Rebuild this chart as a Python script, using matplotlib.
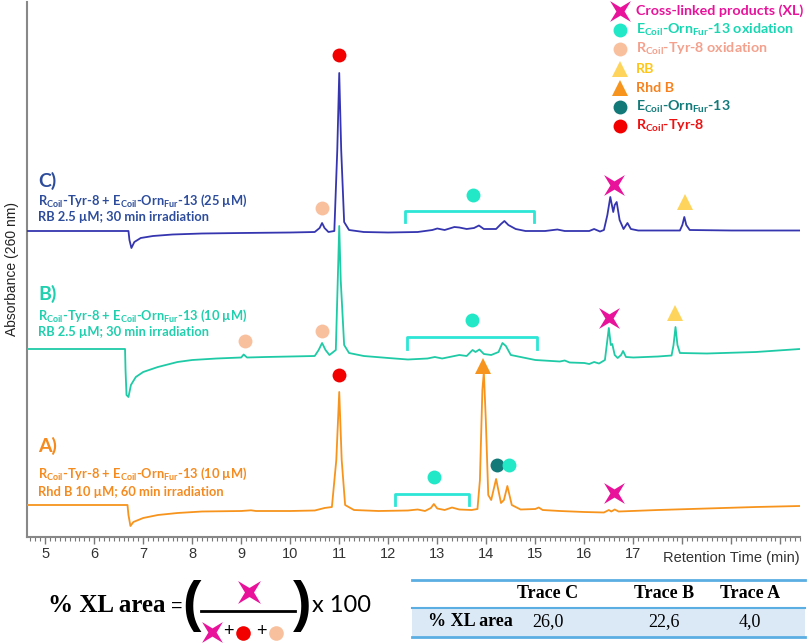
import numpy as np
import matplotlib
matplotlib.use("Agg")
import matplotlib.pyplot as plt
from matplotlib.path import Path
from matplotlib.ticker import MultipleLocator, FixedLocator, FixedFormatter

plt.rcParams["font.family"] = ["Liberation Sans", "DejaVu Sans"]
plt.rcParams["mathtext.fontset"] = "custom"
plt.rcParams["mathtext.rm"] = "Lato:bold"
plt.rcParams["mathtext.it"] = "Lato:bold"
plt.rcParams["mathtext.bf"] = "Lato:bold"

# ---- chromatogram data (signal relative to each trace's own baseline) ----
time_c = [4.63, 6.70, 6.72, 6.76, 6.82, 6.95, 7.2, 7.6, 8.2, 9.0, 10.0, 10.5, 10.6, 10.65, 10.7,
          10.78, 10.9, 10.96, 11.0, 11.04, 11.1, 11.2, 11.5, 12.0, 12.6, 12.9, 13.0, 13.15, 13.35,
          13.45, 13.6, 13.75, 13.85, 13.95, 14.2, 14.3, 14.37, 14.45, 14.6, 14.8, 15.2, 15.45, 15.6,
          16.1, 16.2, 16.32, 16.4, 16.47, 16.53, 16.59, 16.62, 16.66, 16.72, 16.8, 16.88, 16.95,
          17.1, 17.95, 18.0, 18.04, 18.08, 18.15, 19.0, 20.4]
signal_c = [0, 0, -9, -17, -11, -7, -5, -3.5, -2.5, -2, -1.5, -1, 3, 8, 3,
            -1, 0, 81, 158, 81, 9, 1, -1, -1.5, -1, 1, 2.5, 1, 4,
            3.5, 2, 3, 5.5, 2, 2, 7, 10, 6, 2, 0, 0, 1.5, 0,
            0, 2, -0.5, 1, 16, 34, 19, 26, 29, 11, 2, 8, 2,
            0.5, 0.5, 6, 14, 6, 1, 0.5, 0.5]

time_b = [4.63, 6.63, 6.64, 6.66, 6.7, 6.75, 6.85, 7.0, 7.3, 7.7, 8.0, 8.5, 9.0, 9.05, 9.12, 9.5,
          10.0, 10.5, 10.58, 10.65, 10.72, 10.8, 10.93, 10.97, 11.0, 11.03, 11.1, 11.2, 11.5, 12.0,
          12.4, 12.8, 12.95, 13.1, 13.35, 13.45, 13.6, 13.72, 13.78, 13.86, 13.95, 14.1, 14.25,
          14.33, 14.4, 14.5, 14.7, 15.0, 15.5, 15.6, 15.7, 16.0, 16.1, 16.2, 16.3, 16.42, 16.47,
          16.5, 16.54, 16.57, 16.62, 16.68, 16.75, 16.79, 16.85, 17.0, 17.5, 17.78, 17.82, 17.86,
          17.9, 17.95, 18.5, 19.5, 20.4]
signal_b = [0, 0, -21, -46, -48, -36, -28, -23, -18, -13, -11, -9.5, -8.5, -5.5, -8.5, -8,
            -7.5, -7, -1, 6, -1, -6, -1, 69, 123, 69, 4, -4, -7, -9,
            -10.5, -9.5, -8, -9.5, -7, -6, -7, -1, -3, -0.5, -5, -6, -3,
            6, 3, -6, -8, -11, -12.5, -11.5, -13.5, -14, -15, -13, -14.5, -11, 9,
            21, 4, 5, -6, -9, -6, -2, -8, -8.5, -7.5, -6.5, 4, 22,
            4, -4, -4.5, -3, 0]

time_a = [4.63, 6.68, 6.7, 6.74, 6.8, 6.9, 7.0, 7.3, 7.7, 8.2, 9.0, 9.2, 9.3, 10.0, 10.5, 10.7,
          10.85, 10.94, 11.0, 11.05, 11.12, 11.3, 11.8, 12.4, 12.6, 12.75, 12.87, 12.93, 13.0,
          13.15, 13.3, 13.45, 13.7, 13.82, 13.87, 13.92, 13.95, 13.99, 14.04, 14.1, 14.2, 14.3,
          14.36, 14.43, 14.52, 14.7, 15.0, 15.07, 15.15, 15.5, 16.0, 16.4, 16.5, 16.55, 16.62,
          16.7, 17.5, 18.5, 19.5, 20.4]
signal_a = [0, 0, -10, -21, -17, -15, -13, -10, -8, -6.5, -6, -5.3, -6, -6, -5.5, -3,
            -2, 45, 113, 45, 0, -5, -6, -5.5, -4.5, -6, -3, 1, -3.5,
            -5, -2.5, -4.5, -5, -4, 25, 115, 133, 85, 10, 5, 26, 2,
            5, 19, 0, -4.5, -4, -2.5, -5, -6, -7, -7.5, -5, -6.5, -4.5,
            -6.5, -5, -3.5, -2, -1]

trace_offsets = {"C": 306, "B": 188, "A": 32}
trace_colors = {"C": "#3535b0", "B": "#1fcaa6", "A": "#f7941d"}
text_colors = {"C": "#2d4d9c", "B": "#1fcfae", "A": "#f58a1f"}

# peak annotation symbols: (symbol, time, height)
peak_marks = [
    ("red", 11.0, 482), ("peach", 10.65, 329), ("cyan", 13.73, 342), ("xl", 16.6, 352), ("rb", 18.06, 335),
    ("peach", 9.08, 196), ("peach", 10.65, 206), ("cyan", 13.71, 217), ("xl", 16.51, 219), ("rb", 17.86, 224),
    ("red", 11.0, 162), ("rhd", 13.94, 171), ("cyan", 12.94, 60), ("teal", 14.22, 72), ("cyan", 14.47, 72),
    ("xl", 16.6, 44),
]
brackets = [(12.35, 14.98, 326, 315), (12.39, 15.04, 200, 188), (12.14, 13.65, 43, 32)]

legend_keys = ["xl", "cyan", "peach", "rb", "rhd", "teal", "red"]
legend_labels = ["Cross-linked products (XL)", "E$_{Coil}$-Orn$_{Fur}$-13 oxidation",
                 "R$_{Coil}$-Tyr-8 oxidation", "RB", "Rhd B", "E$_{Coil}$-Orn$_{Fur}$-13",
                 "R$_{Coil}$-Tyr-8"]
legend_text_colors = ["#e8139a", "#19d6b2", "#f4a08c", "#ffc61a", "#f7821d", "#137a7a", "#ee1111"]

table_headers = ["Trace C", "Trace B", "Trace A"]
xl_area = ["26,0", "22,6", "4,0"]

# four-armed cross marker with thin concave arms
_ang_out = np.deg2rad([45, 135, 225, 315])
_ang_in = np.deg2rad([90, 180, 270, 360])
_verts = []
for ao, ai in zip(_ang_out, _ang_in):
    _verts.append((np.cos(ao), np.sin(ao)))
    _verts.append((0.28 * np.cos(ai), 0.28 * np.sin(ai)))
_verts.append(_verts[0])
XL_MARKER = Path(_verts, closed=True)

SYMBOLS = {
    "red": dict(marker="o", color="#f20000", ms=10),
    "peach": dict(marker="o", color="#f9c09e", ms=10),
    "cyan": dict(marker="o", color="#22e8c8", ms=10),
    "teal": dict(marker="o", color="#127878", ms=10),
    "xl": dict(marker=XL_MARKER, color="#e8139a", ms=15),
    "rb": dict(marker="^", color="#ffd45c", ms=12),
    "rhd": dict(marker="^", color="#f7941d", ms=12),
}


def draw_symbol(axis, key, x, y, scale=1.0):
    s = SYMBOLS[key]
    axis.plot([x], [y], linestyle="none", marker=s["marker"], color=s["color"],
              markersize=s["ms"] * scale, markeredgewidth=0, clip_on=False, zorder=5)


fig = plt.figure(figsize=(8.09, 6.43), dpi=100)
W, H = 809, 643
ax = fig.add_axes([27 / W, (H - 537) / H, (800 - 27) / W, 535 / H])

for key, t, s in [("C", time_c, signal_c), ("B", time_b, signal_b), ("A", time_a, signal_a)]:
    ax.plot(t, np.array(s) + trace_offsets[key], color=trace_colors[key], lw=1.3, zorder=3)

for key, t, y in peak_marks:
    draw_symbol(ax, key, t, y)

for x0, x1, top, bot in brackets:
    ax.plot([x0, x0, x1, x1], [bot, top, top, bot], color="#2ee6d6", lw=2, zorder=4)

# trace labels
label_y = {"C": (356, 336, 320), "B": (243, 221, 205), "A": (91, 63, 45)}
line1 = {"C": "R$_{Coil}$-Tyr-8 + E$_{Coil}$-Orn$_{Fur}$-13 (25 µM)",
         "B": "R$_{Coil}$-Tyr-8 + E$_{Coil}$-Orn$_{Fur}$-13 (10 µM)",
         "A": "R$_{Coil}$-Tyr-8 + E$_{Coil}$-Orn$_{Fur}$-13 (10 µM)"}
line2 = {"C": "RB 2.5 µM; 30 min irradiation", "B": "RB 2.5 µM; 30 min irradiation",
         "A": "Rhd B 10 µM; 60 min irradiation"}
for key in ["C", "B", "A"]:
    yl, y1, y2 = label_y[key]
    ax.text(4.86, yl, key + ")", color=text_colors[key], fontsize=14, fontweight="bold",
            family="Lato", va="center")
    ax.text(4.86, y1, line1[key], color=text_colors[key], fontsize=9.3, fontweight="bold",
            family="Lato", va="center")
    ax.text(4.86, y2, line2[key], color=text_colors[key], fontsize=9.3, fontweight="bold",
            family="Lato", va="center")

ax.set_xlim(4.63, 20.4)
ax.set_ylim(0, 535)
for side in ["top", "right"]:
    ax.spines[side].set_visible(False)
for side in ["left", "bottom"]:
    ax.spines[side].set_color("#888888")
    ax.spines[side].set_linewidth(1.5)
ax.set_yticks([])
ax.xaxis.set_major_locator(FixedLocator(list(range(5, 21))))
ax.xaxis.set_major_formatter(FixedFormatter([str(v) for v in range(5, 18)] + ["", "", ""]))
ax.xaxis.set_minor_locator(MultipleLocator(0.1))
ax.tick_params(axis="x", which="major", length=5, width=1, color="#777777",
               labelsize=10.5, labelcolor="#333333", pad=2)
ax.tick_params(axis="x", which="minor", length=3, width=0.8, color="#777777")
ax.set_ylabel("Absorbance (260 nm)", fontsize=10, color="#222222", labelpad=6)
ax.text(1.0, -0.027, "Retention Time (min)", transform=ax.transAxes, ha="right", va="top",
        fontsize=10.5, color="#333333")

# overlay in pixel coordinates: legend, formula, table
ov = fig.add_axes([0, 0, 1, 1], facecolor="none")
ov.set_xlim(0, W)
ov.set_ylim(H, 0)
ov.axis("off")

for i, (key, lab, col) in enumerate(zip(legend_keys, legend_labels, legend_text_colors)):
    y = 11 + i * 19.2
    draw_symbol(ov, key, 620, y, scale=1.0)
    ov.text(636, y, lab, color=col, fontsize=10.3, fontweight="bold", family="Lato", va="center")

# formula
ov.text(48, 606, "% XL area", fontsize=18, fontweight="bold", family="Liberation Serif",
        va="center", ha="left")
ov.text(177, 606, "=", fontsize=14, va="center", ha="center")
ov.text(192, 606, "(", fontsize=40, fontweight="bold", va="center", ha="center")
ov.text(302, 606, ")", fontsize=40, fontweight="bold", va="center", ha="center")
ov.plot([201, 295], [611, 611], color="black", lw=2)
draw_symbol(ov, "xl", 249, 592, scale=1.1)
draw_symbol(ov, "xl", 212, 632, scale=1.0)
ov.text(228, 632, "+", fontsize=13, va="center", ha="center")
draw_symbol(ov, "red", 243, 633, scale=1.05)
ov.text(261, 632, "+", fontsize=13, va="center", ha="center")
draw_symbol(ov, "peach", 276, 633, scale=1.05)
ov.text(312, 606, "x 100", fontsize=17, family="Lato", va="center", ha="left")

# table
ov.fill_between([412, 805], 608, 637, color="#dbe9f6", lw=0)
ov.plot([412, 805], [580, 580], color="#5aaee2", lw=2)
ov.plot([412, 805], [608, 608], color="#5aaee2", lw=1.5)
ov.plot([412, 805], [637, 637], color="#5aaee2", lw=2)
col_x = [548, 664, 750]
for cx, hdr, val in zip(col_x, table_headers, xl_area):
    ov.text(cx, 594, hdr, fontsize=13, fontweight="bold", family="Liberation Serif",
            ha="center", va="center")
    ov.text(cx, 622, val, fontsize=13, family="Liberation Serif", ha="center", va="center")
ov.text(470, 622, "% XL area", fontsize=13, fontweight="bold", family="Liberation Serif",
        ha="center", va="center")

fig.savefig("out.png", dpi=100)
